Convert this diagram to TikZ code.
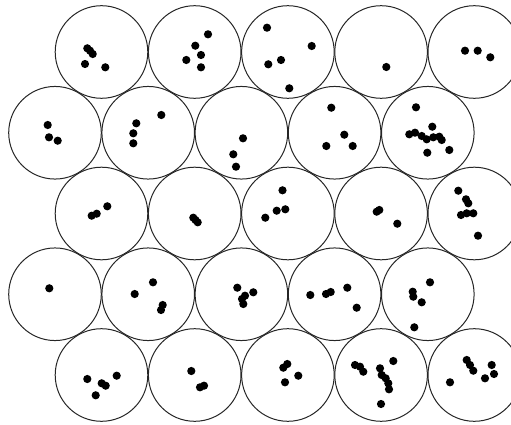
\documentclass[tikz,border=0pt]{standalone}
\begin{document}
\begin{tikzpicture}[x=1pt,y=-1pt,
  cell/.style={draw=black!85,line width=1pt},
  dot/.style={fill=black}]
\useasboundingbox (0,0) rectangle (511,425);
\clip (0,0) rectangle (511,425);
% hexagonal arrangement of circles
\foreach \r in {0,...,4}{
  \foreach \c in {0,...,4}{
    \pgfmathsetmacro{\cx}{(mod(\r,2)==0 ? 101.5 : 55) + 93.2*\c}
    \pgfmathsetmacro{\cy}{52 + 80.75*\r}
    \draw[cell] (\cx,\cy) circle (46.3);
  }
}
% dots
\foreach \x/\y in {
 87.3/48.3, 90/50.7, 92.7/54, 85/64, 105.3/67.3,
 208/34.3, 195.3/45.7, 201/55, 186.3/60, 201/67.3,
 267/27.7, 268.3/64.3, 281/60, 311.7/46, 289.3/88.3,
 386.3/67,
 465/50.7, 477.7/50.7, 490.3/57.3,
 47.7/125, 49/137.3, 57.7/140.7,
 161.3/115, 136.3/123.3, 133.3/133.3, 133.3/143.3,
 243/138.3, 233.3/154.3, 236/166.7,
 331.3/107.7, 344.3/134.7, 326.3/146, 352.7/146,
 416/107.3, 432.3/126.7, 409.3/134.3, 415/132.7, 421.7/136, 426.7/139.3,
 433.3/137.3, 439.3/136.7, 441.7/140, 427.3/152.7, 449.3/150,
 91.7/215.7, 96.7/213.7, 107.3/206.3,
 193.3/217.7, 195.5/220, 197.7/222.3,
 282.5/190.3, 276.7/210.7, 285.3/209.3, 265.3/217.7,
 376.7/211.7, 379.3/210, 397.3/223.7,
 458.3/190.7, 466/199.3, 468.3/203.3, 461/215, 466.7/213.3, 473.3/213.3, 478/235.7,
 49.3/288.3,
 153/282.3, 134.7/294, 162.7/305, 161/310,
 237.3/287.7, 245/295.7, 243.3/304, 253.3/292.3, 242/299,
 310.3/295, 326/294, 330.7/292, 347.3/287.7, 356.7/307.7,
 430/282.3, 412.7/291.7, 413.3/296.7, 421.7/302.3, 414.3/327.3,
 87.3/379, 101.7/383.3, 105.7/385.7, 116.7/375.7, 95.7/395.3,
 191.3/371, 200/387.3, 204/385.7,
 283.3/367.7, 287.3/364, 298.3/375.7, 285/382.3,
 355/365, 360/366.7, 363.3/371.7, 393.3/361, 380/368.3, 381.7/375, 385.7/378.3,
 388.3/383.3, 389/389.3, 381/404,
 466.7/360, 470/365, 473.3/370.7, 491.7/365, 494/374, 485/378.3, 450/382.3}
 \fill[dot] (\x,\y) circle (4.1);
\end{tikzpicture}
\end{document}
